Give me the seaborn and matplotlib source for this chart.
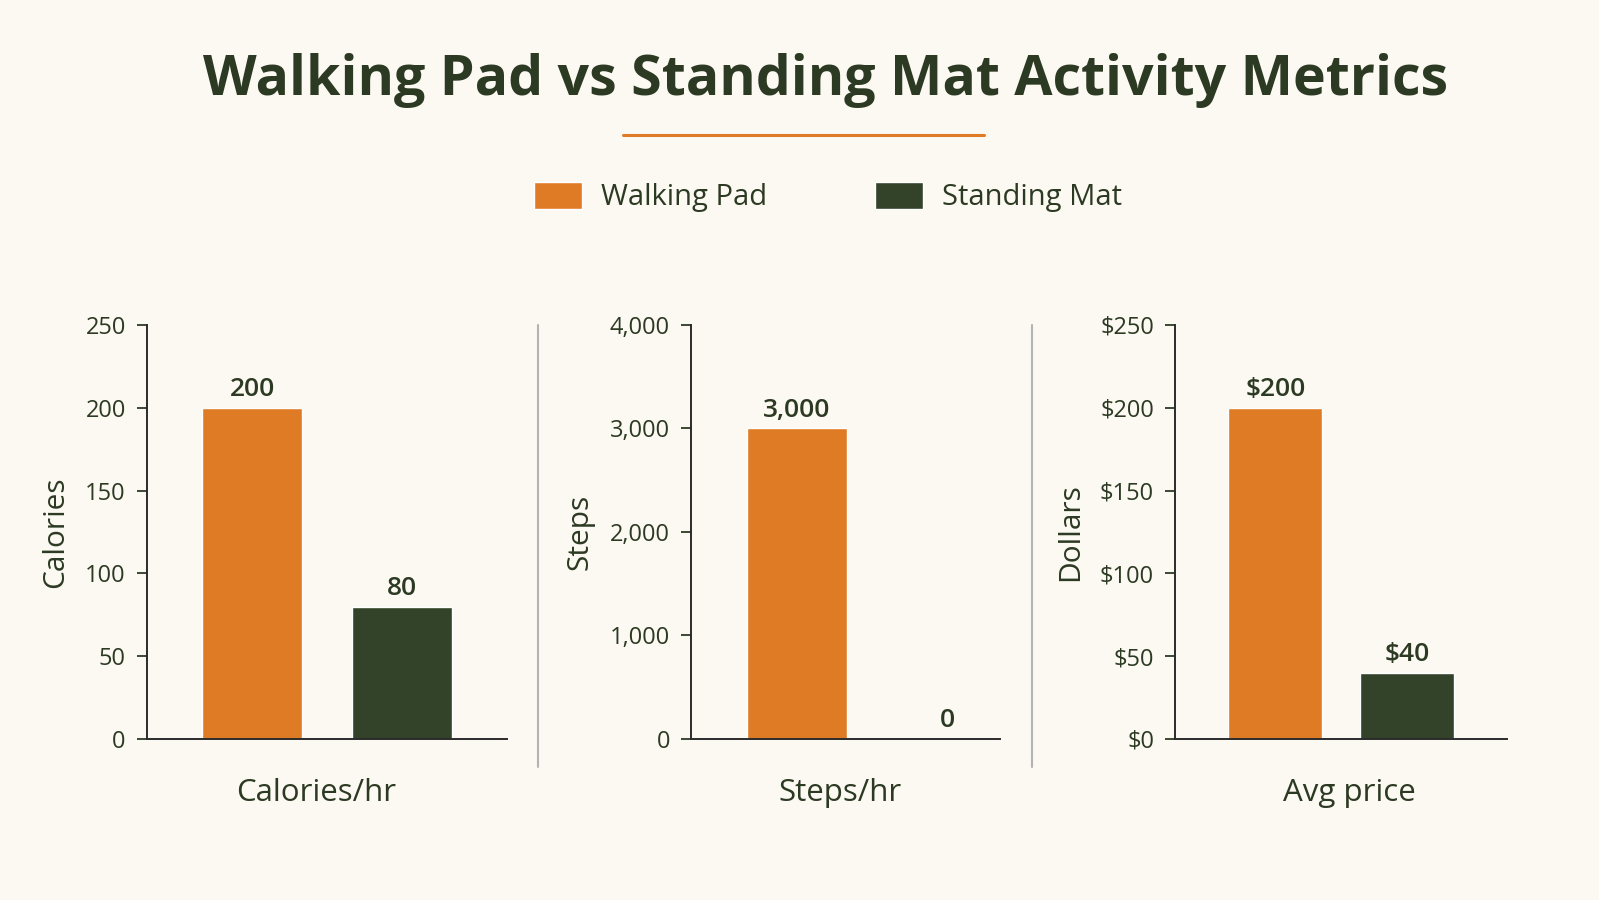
import pandas as pd
import matplotlib.pyplot as plt
import seaborn as sns
from matplotlib.lines import Line2D
from matplotlib.patches import Patch
from matplotlib.ticker import StrMethodFormatter

# data
devices = ["Walking Pad", "Standing Mat"]
metrics = ["Calories/hr", "Steps/hr", "Avg price"]
y_titles = ["Calories", "Steps", "Dollars"]
calories = [200, 80]
steps = [3000, 0]
price = [200, 40]
y_max = [250, 4000, 250]
y_step = [50, 1000, 50]

ORANGE = "#E07B25"
GREEN = "#33432A"
TEXT = "#2D3A23"
BG = "#FBF9F2"

sns.set_theme(style="ticks")
plt.rcParams["font.family"] = ["Open Sans", "DejaVu Sans"]
plt.rcParams["text.color"] = TEXT
plt.rcParams["axes.labelcolor"] = TEXT
plt.rcParams["xtick.color"] = TEXT
plt.rcParams["ytick.color"] = TEXT

fig = plt.figure(figsize=(15.99, 9), dpi=100, facecolor=BG)

# axes boxes (fig fraction) and x-limits
boxes = [
    [0.0917, 0.1789, 0.2253, 0.46],
    [0.4320, 0.1789, 0.1934, 0.46],
    [0.7348, 0.1789, 0.2074, 0.46],
]
xlims = [(-0.482, 0.479), (-0.483, 0.341), (-0.504, 0.501)]
gaps = [0.333, 0.33, 0.29]
xlabel_x = [0.47, 0.483, 0.525]
fmts = ["{:,.0f}", "{:,.0f}", "${:,.0f}"]
tick_fmts = ["{x:,.0f}", "{x:,.0f}", "${x:,.0f}"]

for i, values in enumerate([calories, steps, price]):
    ax = fig.add_axes(boxes[i])
    ax.set_facecolor(BG)
    df = pd.DataFrame({"metric": [metrics[i]] * len(devices),
                       "device": devices,
                       "value": values})
    sns.barplot(data=df, x="metric", y="value", hue="device",
                hue_order=devices, palette=[ORANGE, GREEN],
                gap=gaps[i], saturation=1, legend=False, ax=ax)
    for cont in ax.containers:
        ax.bar_label(cont, fmt=fmts[i], padding=4, fontsize=19,
                     fontweight="semibold", color=TEXT)
    ax.set_xlim(*xlims[i])
    ax.set_ylim(0, y_max[i])
    ax.set_yticks(range(0, y_max[i] + 1, y_step[i]))
    ax.yaxis.set_major_formatter(StrMethodFormatter(tick_fmts[i]))
    ax.tick_params(axis="y", labelsize=17, length=7, width=1.3, pad=8)
    ax.set_xticks([])
    ax.set_xlabel(metrics[i], fontsize=22.5)
    ax.xaxis.set_label_coords(xlabel_x[i], -0.094)
    ax.set_ylabel(y_titles[i], fontsize=21.5, labelpad=11)
    for s in ["top", "right"]:
        ax.spines[s].set_visible(False)
    for s in ["left", "bottom"]:
        ax.spines[s].set_color("#2b2b2b")
        ax.spines[s].set_linewidth(1.4)

# panel separators
for xs in [537.7 / 1599, 1031.7 / 1599]:
    fig.add_artist(Line2D([xs, xs], [1 - 325 / 900, 1 - 767 / 900],
                          color="#b3b3b3", lw=1.5))

# title + accent rule
fig.text(0.516, 1 - 95 / 900, "Walking Pad vs Standing Mat Activity Metrics",
         ha="center", va="baseline", fontsize=40, fontweight="bold", color=TEXT)
fig.add_artist(Line2D([623 / 1599, 984 / 1599], [1 - 135 / 900] * 2,
                      color=ORANGE, lw=2.2))

handles = [Patch(facecolor=ORANGE, label=devices[0]),
           Patch(facecolor=GREEN, label=devices[1])]
fig.legend(handles=handles, loc="center", bbox_to_anchor=(0.518, 1 - 197 / 900),
           ncol=2, frameon=False, fontsize=21, handlelength=1.65,
           handleheight=1.05, handletextpad=0.65, columnspacing=3.7)

plt.savefig("out.png", dpi=100, facecolor=BG)
